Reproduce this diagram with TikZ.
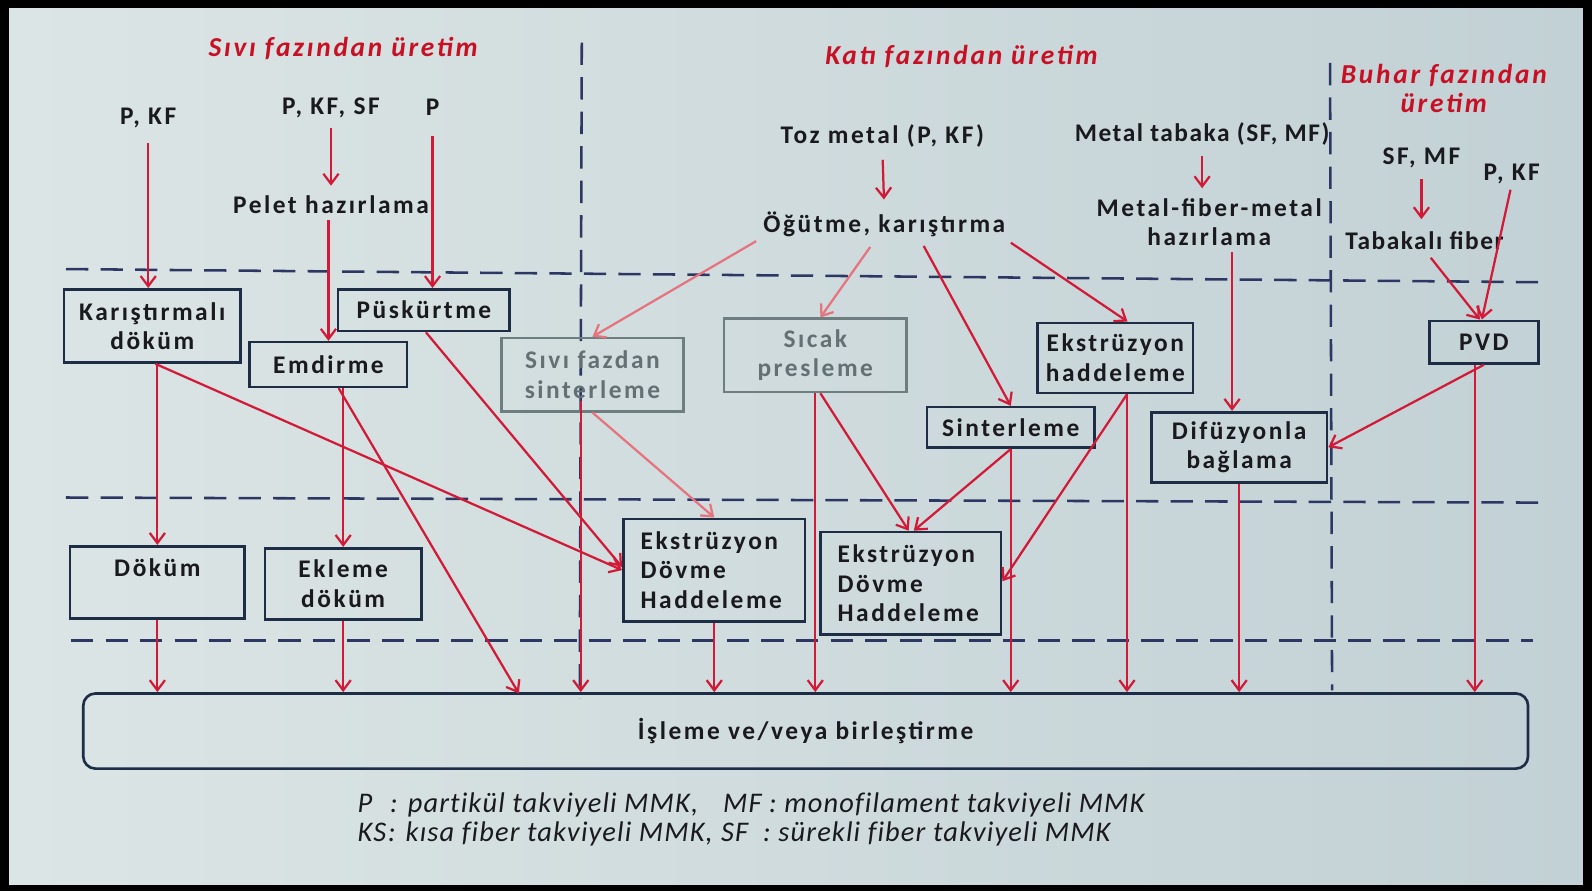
\documentclass[tikz,border=0pt]{standalone}
\usepackage{fontspec}
\setmainfont{Carlito}
\newfontfamily\labfont[LetterSpace=10]{Carlito}
\newfontfamily\labnarrow[LetterSpace=6]{Carlito}
\newfontfamily\ttlfont[LetterSpace=10]{Carlito}
\newfontfamily\legfont[LetterSpace=4,Ligatures=NoCommon]{Carlito}
\usetikzlibrary{arrows.meta,calc}
\definecolor{redc}{RGB}{210,25,55}
\definecolor{fadered}{RGB}{230,115,125}
\definecolor{boxc}{RGB}{30,45,70}
\definecolor{dashc}{RGB}{45,55,100}
\definecolor{fadebox}{RGB}{110,125,128}
\definecolor{fadetxt}{RGB}{100,112,115}
\definecolor{ttlc}{RGB}{200,15,35}
\definecolor{txtc}{RGB}{25,25,30}
\definecolor{bgl}{RGB}{220,229,229}
\definecolor{bgr}{RGB}{194,209,213}
\newcommand{\lab}{\labfont\bfseries\fontsize{25}{29}\selectfont}
\newcommand{\labn}{\labnarrow\bfseries\fontsize{25}{29}\selectfont}
\tikzset{
  box/.style={draw=boxc, line width=2.6pt, align=center, inner sep=0pt, text=txtc, font=\lab},
  fbox/.style={box, draw=fadebox, text=fadetxt},
  lbl/.style={font=\lab, text=txtc, inner sep=0pt, align=center},
  ttl/.style={font=\ttlfont\bfseries\itshape\fontsize{27}{29}\selectfont, text=ttlc, inner sep=0pt, align=center},
  leg/.style={font=\legfont\itshape\fontsize{28}{30}\selectfont, text=txtc, inner sep=0pt, anchor=base west},
  arr/.style={draw=redc, line width=2.2pt, -{Straight Barb[length=10pt,width=15pt,line width=2.2pt]}},
  farr/.style={arr, draw=fadered},
  dsh/.style={draw=dashc, line width=2.5pt, dash pattern=on 22pt off 12pt},
}
\begin{document}
\begin{tikzpicture}[x=1pt,y=-1pt]
\useasboundingbox (0,0) rectangle (1568,878);
\fill[black] (0,0) rectangle (1568,878);
\shade[left color=bgl, right color=bgr] (9,8) rectangle (1559,871);

% dashed separators
\draw[dsh] (65,265) -- (1520,278);
\draw[dsh] (65,490) -- (1515,495);
\draw[dsh] (70,631) -- (1510,631);
\draw[dsh] (573,42) -- (571,688);
\draw[dsh] (1310,62) -- (1312,680);

% titles
\node[ttl] (t1) at (338,48) {Sıvı fazından üretim};
\node[ttl] (t2) at (947,56) {Katı fazından üretim};
\node[ttl] (t3) at (1422,87) {Buhar fazından\\üretim};

% plain labels
\node[lbl] (pkf1) at (146,116) {P, KF};
\node[lbl] (pkfsf) at (326,106) {P, KF, SF};
\node[lbl] (p) at (426,106) {P};
\node[lbl] (pelet) at (326,202) {Pelet hazırlama};
\node[lbl] (toz) at (869,134) {Toz metal (P, KF)};
\node[lbl] (ogut) at (871,221) {Öğütme, karıştırma};
\node[lbl, font=\labn] (mtab) at (1184,132) {Metal tabaka (SF, MF)};
\node[lbl] (mfm) at (1191,219) {Metal-fiber-metal\\hazırlama};
\node[lbl] (sfmf) at (1400,156) {SF, MF};
\node[lbl] (pkf2) at (1489,171) {P, KF};
\node[lbl, font=\labn] (tabfib) at (1403,237) {Tabakalı fiber};

% boxes
\node[box, minimum width=174pt, minimum height=72pt] (kar) at (150,321) {Karıştırmalı\\döküm};
\node[box, minimum width=155pt, minimum height=44pt] (emd) at (323.5,359) {Emdirme};
\node[box, minimum width=169pt, minimum height=41pt] (pus) at (417.5,305.5) {Püskürtme};
\node[fbox, minimum width=179pt, minimum height=72pt] (sivi) at (583.5,369) {Sıvı fazdan\\sinterleme};
\node[fbox, minimum width=180pt, minimum height=72pt] (sicak) at (803,350) {Sıcak\\presleme};
\node[box, minimum width=153pt, minimum height=69pt] (ekh) at (1098.5,352.5) {Ekstrüzyon\\haddeleme};
\node[box, minimum width=165pt, minimum height=40pt] (sint) at (995.5,421) {Sinterleme};
\node[box, minimum width=173pt, minimum height=69pt] (dif) at (1220.5,440.5) {Difüzyonla\\bağlama};
\node[box, minimum width=107pt, minimum height=42pt] (pvd) at (1461.5,337) {PVD};
\node[box, minimum width=172pt, minimum height=71pt] (dok) at (155,573.5) {Döküm\\\mbox{}};
\node[box, minimum width=154pt, minimum height=70pt] (ekl) at (338,575) {Ekleme\\döküm};
\node[box, inner xsep=17pt, text width=145pt, align=left, minimum height=101pt] (edh1) at (703.5,561.5) {Ekstrüzyon\\Dövme\\Haddeleme};
\node[box, inner xsep=17pt, text width=144pt, align=left, minimum height=101pt] (edh2) at (897,574.5) {Ekstrüzyon\\Dövme\\Haddeleme};
\node[box, rounded corners=12pt, minimum width=1423pt, minimum height=74pt] (isl) at (793.5,720) {İşleme ve/veya birleştirme};

% legend
\node[leg] (lg1) at (352,800) {P};
\node[leg] (lg2) at (384,800) {: partikül takviyeli MMK,};
\node[leg] (lg3) at (712,800) {MF : monofilament takviyeli MMK};
\node[leg] (lg4) at (352,829) {KS};
\node[leg] (lg4b) at (382,829) {: kısa fiber takviyeli MMK,};
\node[leg] (lg5) at (710,829) {SF \ : sürekli fiber takviyeli MMK};

% helper coordinates
\coordinate (s22) at (572,395);
\coordinate (t20) at (511,683);
\coordinate (e30) at ([xshift=11.5pt]ekh.south);
\coordinate (d14) at ([xshift=-7pt]dif.north);
\coordinate (p16) at ([xshift=-9pt]pvd.south);

% arrows: inputs
\draw[arr, shorten <=15pt] (pkf1.south) -- (pkf1.south |- kar.north);
\draw[arr, shorten <=10pt, shorten >=10pt] (pkfsf.south) -- (pelet.north);
\draw[arr, shorten <=6pt] (emd.north |- pelet.south) -- (emd.north);
\draw[arr, shorten <=20pt] (p.south) -- (p.south |- pus.north);
\draw[arr, shorten <=12pt, shorten >=12pt] (toz.south) -- (ogut.north);
\draw[arr, shorten <=10pt, shorten >=10pt] (mtab.south) -- (mtab.south |- mfm.north);
\draw[arr, shorten <=10pt, shorten >=12pt] (sfmf.south) -- (sfmf.south |- tabfib.north);
\draw[arr, shorten <=6pt] (pkf2.south) -- ([xshift=-2pt]pvd.north);
\draw[arr, shorten <=10pt] ([xshift=0pt]tabfib.south) -- ([xshift=-4pt]pvd.north);

% from Ogutme
\draw[farr, shorten <=8pt] (ogut.south west) -- (sivi.north);
\draw[farr, shorten <=12pt] ([xshift=-7pt]ogut.south) -- ([xshift=5pt]sicak.north);
\draw[arr, shorten <=10pt] ([xshift=34pt]ogut.south) -- (sint.north);
\draw[arr, shorten <=10pt] ([xshift=-3pt]ogut.south east) -- ([xshift=12pt]ekh.north);

% right column
\draw[arr, shorten <=6pt] (d14 |- mfm.south) -- (d14);
\draw[arr] (pvd.south) -- (dif.east);
\draw[arr] (p16) -- (p16 |- isl.north);

% left column
\draw[arr] (dok.north |- kar.south) -- (dok.north);
\draw[arr] ([xshift=3pt]kar.south) -- (edh1.west);
\draw[arr] (ekl.north |- emd.south) -- (ekl.north);
\draw[arr] ([xshift=10pt]emd.south) -- (t20);
\draw[arr] ([xshift=2pt]pus.south) -- ([yshift=3pt]edh1.west);

% middle
\draw[arr] (s22) -- (s22 |- isl.north);
\draw[farr] (sivi.south) -- (edh1.north);
\draw[arr] (edh1.south) -- (edh1.south |- isl.north);
\draw[arr] (sicak.south) -- (sicak.south |- isl.north);
\draw[arr] ([xshift=5pt]sicak.south) -- ([xshift=-2pt]edh2.north);
\draw[arr] (sint.south) -- ([xshift=3pt]edh2.north);
\draw[arr] (sint.south) -- (sint.south |- isl.north);
\draw[arr] (e30) -- ([yshift=2pt]edh2.east);
\draw[arr] (e30) -- (e30 |- isl.north);
\draw[arr] (dif.south) -- (dif.south |- isl.north);

% bottom row
\draw[arr] (dok.south) -- (dok.south |- isl.north);
\draw[arr] (ekl.south) -- (ekl.south |- isl.north);
\end{tikzpicture}
\end{document}
